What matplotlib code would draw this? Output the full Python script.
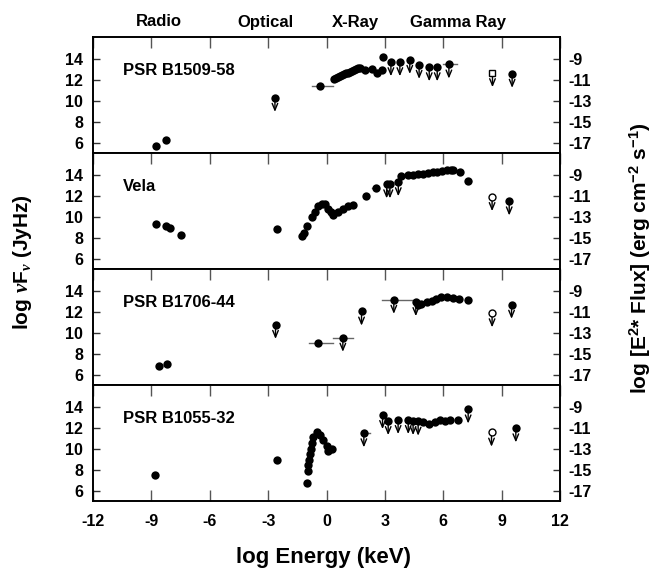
import matplotlib
matplotlib.use("Agg")
import matplotlib.pyplot as plt

plt.rcParams['font.family'] = ['Liberation Sans', 'DejaVu Sans']
plt.rcParams['font.weight'] = 'bold'
plt.rcParams['axes.unicode_minus'] = False
plt.rcParams['mathtext.fontset'] = 'custom'
plt.rcParams['mathtext.rm'] = 'Liberation Sans:bold'
plt.rcParams['mathtext.bf'] = 'Liberation Sans:bold'
plt.rcParams['mathtext.it'] = 'Liberation Serif:italic'

# ---------------- data ----------------
band_labels = ["Radio", "Optical", "X-Ray", "Gamma Ray"]
x_ticks = [-12, -9, -6, -3, 0, 3, 6, 9, 12]
left_ticks = [6, 8, 10, 12, 14]
right_ticks = [-9, -11, -13, -15, -17]
flux_offset = -23  # log[E^2 Flux] = log(nu F_nu) - 23

names = ["PSR B1509-58", "Vela", "PSR B1706-44", "PSR B1055-32"]

# PSR B1509-58
b1509_det_x = [-8.78, -8.23, -0.34, 0.40, 0.50, 0.60, 0.70, 0.80, 0.90, 1.00, 1.10, 1.20, 1.30,
               1.40, 1.50, 1.60, 1.72, 1.98, 2.32, 2.60, 2.83, 2.90]
b1509_det_y = [5.71, 6.28, 11.45, 12.10, 12.20, 12.28, 12.37, 12.45, 12.52, 12.60, 12.68, 12.76, 12.84,
               12.92, 13.00, 13.08, 13.15, 12.96, 13.05, 12.64, 12.90, 14.20]
b1509_ul_x = [-2.65, 3.31, 3.77, 4.28, 4.76, 5.28, 5.69, 6.29, 9.54]
b1509_ul_y = [10.30, 13.68, 13.68, 13.90, 13.43, 13.20, 13.20, 13.46, 12.58]
b1509_open_x = [8.53]
b1509_open_y = [12.64]
b1509_open_marker = 's'
b1509_bar_x = [-0.34, 6.29]
b1509_bar_y = [11.45, 13.46]
b1509_bar_lo = [-0.76, 5.99]
b1509_bar_hi = [0.35, 6.70]

# Vela
vela_det_x = [-8.78, -8.25, -8.04, -7.46, -2.56, -1.28, -1.18, -1.02, -0.73, -0.60, -0.43, -0.25,
              -0.08, 0.09, 0.22, 0.35, 0.60, 0.86, 1.12, 1.37, 2.02, 2.53, 3.83,
              4.20, 4.45, 4.70, 4.95, 5.20, 5.45, 5.70, 5.95, 6.20, 6.40, 6.52, 6.86, 7.28]
vela_det_y = [9.30, 9.11, 8.92, 8.23, 8.89, 8.20, 8.48, 9.11, 9.99, 10.47, 11.00, 11.26,
              11.19, 10.78, 10.45, 10.15, 10.47, 10.78, 11.00, 11.10, 11.95, 12.77, 13.84,
              13.93, 13.98, 14.03, 14.08, 14.15, 14.22, 14.28, 14.35, 14.40, 14.45, 14.47, 14.25, 13.40]
vela_ul_x = [3.09, 3.26, 3.69, 9.39]
vela_ul_y = [13.10, 13.10, 13.30, 11.48]
vela_open_x = [8.51]
vela_open_y = [11.89]
vela_open_marker = 'o'
vela_bar_x = [2.53, 3.69, 7.28]
vela_bar_y = [12.77, 13.30, 13.40]
vela_bar_lo = [2.35, 3.50, 7.15]
vela_bar_hi = [2.72, 3.85, 7.45]

# PSR B1706-44
b1706_det_x = [-8.61, -8.20, -0.45, 4.71, 4.88, 5.14, 5.40, 5.65, 5.91, 6.17, 6.48, 6.82, 7.25]
b1706_det_y = [6.88, 7.07, 9.08, 12.60, 12.75, 12.93, 13.06, 13.22, 13.37, 13.44, 13.31, 13.22, 13.12]
b1706_ul_x = [-2.62, 0.84, 1.80, 3.46, 4.59, 9.51]
b1706_ul_y = [10.77, 9.55, 12.03, 13.15, 12.93, 12.68]
b1706_open_x = [8.51]
b1706_open_y = [11.87]
b1706_open_marker = 'o'
b1706_bar_x = [-0.45, 0.84, 3.46, 7.25]
b1706_bar_y = [9.08, 9.55, 13.15, 13.12]
b1706_bar_lo = [-0.89, 0.33, 2.85, 7.10]
b1706_bar_hi = [0.35, 1.35, 4.55, 7.40]

# PSR B1055-32
b1055_det_x = [-8.82, -2.53, -1.01, -0.97, -0.95, -0.90, -0.85, -0.82, -0.77, -0.68, -0.51, -0.34,
               -0.17, 0.00, 0.10, 0.26, 4.97, 5.28, 5.57, 5.83, 6.08, 6.37, 6.77]
b1055_det_y = [7.48, 8.98, 6.79, 7.89, 8.45, 8.98, 9.52, 10.02, 10.55, 11.08, 11.55, 11.34,
               10.87, 10.24, 9.83, 9.99, 12.53, 12.34, 12.53, 12.75, 12.59, 12.75, 12.75]
b1055_ul_x = [1.92, 2.88, 3.17, 3.68, 4.20, 4.45, 4.71, 7.28, 9.73]
b1055_ul_y = [11.49, 13.22, 12.65, 12.75, 12.75, 12.65, 12.59, 13.75, 11.96]
b1055_open_x = [8.48]
b1055_open_y = [11.55]
b1055_open_marker = 'o'
b1055_bar_x = [1.92]
b1055_bar_y = [11.49]
b1055_bar_lo = [1.85]
b1055_bar_hi = [2.25]

panels = [
    (b1509_det_x, b1509_det_y, b1509_ul_x, b1509_ul_y, b1509_open_x, b1509_open_y, b1509_open_marker,
     b1509_bar_x, b1509_bar_y, b1509_bar_lo, b1509_bar_hi),
    (vela_det_x, vela_det_y, vela_ul_x, vela_ul_y, vela_open_x, vela_open_y, vela_open_marker,
     vela_bar_x, vela_bar_y, vela_bar_lo, vela_bar_hi),
    (b1706_det_x, b1706_det_y, b1706_ul_x, b1706_ul_y, b1706_open_x, b1706_open_y, b1706_open_marker,
     b1706_bar_x, b1706_bar_y, b1706_bar_lo, b1706_bar_hi),
    (b1055_det_x, b1055_det_y, b1055_ul_x, b1055_ul_y, b1055_open_x, b1055_open_y, b1055_open_marker,
     b1055_bar_x, b1055_bar_y, b1055_bar_lo, b1055_bar_hi),
]

# ---------------- figure ----------------
W, H = 657, 573
fig = plt.figure(figsize=(W / 100, H / 100), dpi=100)

left_px, right_px = 93, 560
top_px, panel_h = 37, 116
ylo, yhi = 5.05, 16.05
arrow_len = 1.35

for i, (dx, dy, ux, uy, ox, oy, om, bx, by, blo, bhi) in enumerate(panels):
    top = top_px + i * panel_h
    ax = fig.add_axes([left_px / W, 1 - (top + panel_h) / H, (right_px - left_px) / W, panel_h / H])
    ax.set_xlim(-12, 12)
    ax.set_ylim(ylo, yhi)
    for s in ax.spines.values():
        s.set_linewidth(1.2)

    # horizontal error bars
    for xb, yb, lo, hi in zip(bx, by, blo, bhi):
        ax.plot([lo, hi], [yb, yb], color='#666666', lw=1.0, zorder=2)

    # upper-limit arrows
    for xu, yu in zip(list(ux) + list(ox), list(uy) + list(oy)):
        ax.annotate('', xy=(xu, yu - arrow_len), xytext=(xu, yu),
                    arrowprops=dict(arrowstyle='->,head_length=0.6,head_width=0.25',
                                    color='black', lw=1.0, shrinkA=0, shrinkB=0,
                                    mutation_scale=8), zorder=3)

    ax.plot(dx, dy, 'o', color='black', ms=6.0, mew=0, zorder=4)
    ax.plot(ux, uy, 'o', color='black', ms=6.0, mew=0, zorder=4)
    ax.plot(ox, oy, om, mfc='white', mec='black', ms=5.0, mew=1.0, zorder=4)

    ax.text(0.064, 0.71, names[i], transform=ax.transAxes, fontsize=12, fontweight='bold',
            ha='left', va='center')

    ax.set_xticks(x_ticks)
    ax.set_yticks(left_ticks)
    ax.tick_params(axis='y', direction='in', length=5, width=1, left=True, right=False,
                   labelsize=11.5, pad=7, color='#333333')
    last = (i == len(panels) - 1)
    ax.tick_params(axis='x', direction='in', length=8, width=1, top=True, bottom=last,
                   labelbottom=last, labelsize=11.5, pad=9, color='#555555')
    for lab in ax.get_xticklabels() + ax.get_yticklabels():
        lab.set_fontweight('bold')

    ax2 = ax.twinx()
    ax2.set_ylim(ylo + flux_offset, yhi + flux_offset)
    ax2.set_yticks(right_ticks)
    ax2.set_yticklabels([str(t) for t in right_ticks])
    ax2.tick_params(axis='y', direction='in', length=5, width=1, labelsize=11.5, pad=6, color='#333333')
    for lab in ax2.get_yticklabels():
        lab.set_fontweight('bold')
    for s in ax2.spines.values():
        s.set_linewidth(1.2)

# band labels
band_x_px = [159, 265, 355, 458]
for lab, xp in zip(band_labels, band_x_px):
    fig.text(xp / W, 1 - 22 / H, lab, ha='center', va='center', fontsize=12, fontweight='bold')

fig.text(324 / W, 1 - 558 / H, 'log Energy (keV)', ha='center', va='center', fontsize=16,
         fontweight='bold')
fig.text(22 / W, 1 - 262 / H, r'log $\nu$F$_{\nu}$ (JyHz)', ha='center', va='center',
         rotation=90, fontsize=15, fontweight='bold')
fig.text(640 / W, 1 - 258 / H, r'log [E$^{2}$* Flux] (erg cm$^{-2}$ s$^{-1}$)', ha='center',
         va='center', rotation=90, fontsize=15, fontweight='bold')

fig.savefig('out.png', dpi=100)
